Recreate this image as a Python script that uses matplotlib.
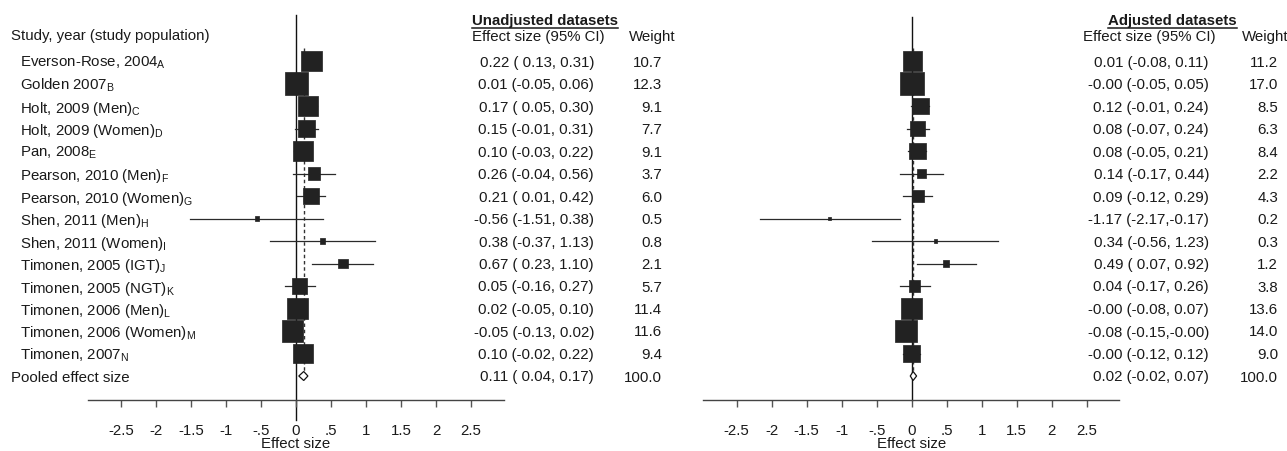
import matplotlib
matplotlib.use("Agg")
import matplotlib.pyplot as plt
import matplotlib.transforms as mtransforms
from matplotlib.patches import Polygon
from matplotlib.lines import Line2D
import numpy as np

plt.rcParams['font.family'] = ['Liberation Sans', 'DejaVu Sans']
plt.rcParams['mathtext.fontset'] = 'custom'
plt.rcParams['mathtext.rm'] = 'Liberation Sans'
plt.rcParams['mathtext.it'] = 'Liberation Sans'

# ---------------- data ----------------
studies = ["Everson-Rose, 2004", "Golden 2007", "Holt, 2009 (Men)", "Holt, 2009 (Women)",
           "Pan, 2008", "Pearson, 2010 (Men)", "Pearson, 2010 (Women)", "Shen, 2011 (Men)",
           "Shen, 2011 (Women)", "Timonen, 2005 (IGT)", "Timonen, 2005 (NGT)",
           "Timonen, 2006 (Men)", "Timonen, 2006 (Women)", "Timonen, 2007"]
study_subs = ["A", "B", "C", "D", "E", "F", "G", "H", "I", "J", "K", "L", "M", "N"]
pooled_label = "Pooled effect size"
header_study = "Study, year (study population)"

unadj_est = [0.22, 0.01, 0.17, 0.15, 0.10, 0.26, 0.21, -0.56, 0.38, 0.67, 0.05, 0.02, -0.05, 0.10]
unadj_lo = [0.13, -0.05, 0.05, -0.01, -0.03, -0.04, 0.01, -1.51, -0.37, 0.23, -0.16, -0.05, -0.13, -0.02]
unadj_hi = [0.31, 0.06, 0.30, 0.31, 0.22, 0.56, 0.42, 0.38, 1.13, 1.10, 0.27, 0.10, 0.02, 0.22]
unadj_w = [10.7, 12.3, 9.1, 7.7, 9.1, 3.7, 6.0, 0.5, 0.8, 2.1, 5.7, 11.4, 11.6, 9.4]
unadj_pooled = (0.11, 0.04, 0.17, 100.0)

adj_est = [0.01, -0.0, 0.12, 0.08, 0.08, 0.14, 0.09, -1.17, 0.34, 0.49, 0.04, -0.0, -0.08, -0.0]
adj_lo = [-0.08, -0.05, -0.01, -0.07, -0.05, -0.17, -0.12, -2.17, -0.56, 0.07, -0.17, -0.08, -0.15, -0.12]
adj_hi = [0.11, 0.05, 0.24, 0.24, 0.21, 0.44, 0.29, -0.17, 1.23, 0.92, 0.26, 0.07, -0.0, 0.12]
adj_w = [11.2, 17.0, 8.5, 6.3, 8.4, 2.2, 4.3, 0.2, 0.3, 1.2, 3.8, 13.6, 14.0, 9.0]
adj_pooled = (0.02, -0.02, 0.07, 100.0)

tick_vals = [-2.5, -2, -1.5, -1, -0.5, 0, 0.5, 1, 1.5, 2, 2.5]
tick_labels = ["-2.5", "-2", "-1.5", "-1", "-.5", "0", ".5", "1", "1.5", "2", "2.5"]

# ---------------- layout ----------------
W, H = 1287, 451
fig = plt.figure(figsize=(W / 100, H / 100), dpi=100)
FS = 10.8
TXT = "#1a1a1a"

ROW0_PX, ROW_STEP = 61.0, 22.5
AXIS_PX = 400.0


def px2row(p):
    return (p - ROW0_PX) / ROW_STEP


def make_panel(x0px, x1px, xlim, est, lo, hi, w, pooled, k_pt, title, title_left_px,
               es_right_px, es_head_left_px, wt_right_px, wt_head_left_px, null_top_px,
               null_bottom_px):
    ax = fig.add_axes([x0px / W, (H - AXIS_PX) / H, (x1px - x0px) / W, AXIS_PX / H])
    ax.set_xlim(*xlim)
    ax.set_ylim(px2row(AXIS_PX), px2row(0))
    for s in ["left", "right", "top"]:
        ax.spines[s].set_visible(False)
    ax.spines["bottom"].set_color("#444444")
    ax.spines["bottom"].set_linewidth(1.0)
    ax.set_yticks([])
    ax.set_xticks(tick_vals)
    ax.set_xticklabels(tick_labels, fontsize=FS, color=TXT)
    ax.tick_params(axis="x", direction="out", length=5, width=1, color="#555555", pad=12.5)
    ax.patch.set_alpha(0)

    n = len(est)
    rows = np.arange(n)
    # null line
    ax.axvline(0, ymin=(AXIS_PX - null_bottom_px) / AXIS_PX, ymax=(AXIS_PX - null_top_px) / AXIS_PX,
               color="#111111", lw=1.0, clip_on=False, zorder=1)
    # pooled dashed line
    ax.plot([pooled[0], pooled[0]], [-0.6, n], color="#333333", lw=1.0,
            ls=(0, (2.5, 2)), zorder=1)
    # CIs
    for r in rows:
        ax.plot([lo[r], hi[r]], [r, r], color="#2a2a2a", lw=0.9, zorder=2)
    # boxes
    sizes = [(k_pt ** 2) * wi for wi in w]
    ax.scatter(est, rows, s=sizes, marker="s", color="#222222", edgecolors="#222222",
               linewidths=0.5, zorder=3)
    # pooled diamond
    pe, pl, ph, _ = pooled
    dh = 0.2
    dia = Polygon([[pl, n], [pe, n - dh], [ph, n], [pe, n + dh]], closed=True,
                  facecolor="white", edgecolor="#111111", lw=0.9, zorder=4)
    ax.add_patch(dia)

    # text columns
    tr = mtransforms.blended_transform_factory(fig.transFigure, ax.transData)
    es_strings = [f"{est[i]:.2f} ({lo[i]:5.2f},{hi[i]:5.2f})" for i in range(n)]
    es_strings.append(f"{pe:.2f} ({pl:5.2f},{ph:5.2f})")
    wt_strings = [f"{wi:.1f}" for wi in w] + [f"{pooled[3]:.1f}"]
    for r in range(n + 1):
        ax.text(es_right_px / W, r, es_strings[r], transform=tr, ha="right",
                va="center_baseline", fontsize=FS, color=TXT)
        ax.text(wt_right_px / W, r, wt_strings[r], transform=tr, ha="right",
                va="center_baseline", fontsize=FS, color=TXT)
    ax.text(es_head_left_px / W, px2row(35), "Effect size (95% CI)", transform=tr,
            ha="left", va="center_baseline", fontsize=FS, color=TXT)
    ax.text(wt_head_left_px / W, px2row(35), "Weight", transform=tr,
            ha="left", va="center_baseline", fontsize=FS, color=TXT)
    t = ax.text(title_left_px / W, px2row(19), title, transform=tr, ha="left",
                va="center_baseline", fontsize=FS, color=TXT, fontweight="bold")
    # x label
    zero_px = x0px + (0 - xlim[0]) / (xlim[1] - xlim[0]) * (x1px - x0px)
    fig.text(zero_px / W, 0.0, "Effect size", ha="center", va="bottom",
             fontsize=FS, color=TXT)
    return ax, t


axL, tL = make_panel(88, 504, (-2.97, 2.97), unadj_est, unadj_lo, unadj_hi, unadj_w,
                     unadj_pooled, 4.6, "Unadjusted datasets", 472,
                     594, 472, 662, 629, 15, 420)
axR, tR = make_panel(703, 1119, (-2.98, 2.96), adj_est, adj_lo, adj_hi, adj_w,
                     adj_pooled, 4.18, "Adjusted datasets", 1108,
                     1209, 1083, 1278, 1242, 17, 400)

# study labels
trL = mtransforms.blended_transform_factory(fig.transFigure, axL.transData)
axL.text(11 / W, px2row(34), header_study, transform=trL, ha="left",
         va="center_baseline", fontsize=FS, color=TXT)
for i, (name, sub) in enumerate(zip(studies, study_subs)):
    axL.text(20 / W, i, name + r"$_{\mathrm{" + sub + "}}$", transform=trL, ha="left",
             va="center_baseline", fontsize=FS, color=TXT)
axL.text(11 / W, len(studies), pooled_label, transform=trL, ha="left",
         va="center_baseline", fontsize=FS, color=TXT)

# underline bold titles
fig.canvas.draw()
renderer = fig.canvas.get_renderer()
for t in (tL, tR):
    bb = t.get_window_extent(renderer=renderer)
    yline = bb.y0 - 0.5
    fig.add_artist(Line2D([bb.x0 / W, bb.x1 / W], [yline / H, yline / H],
                          transform=fig.transFigure, color=TXT, lw=1.1))

fig.savefig("out.png", dpi=100)
